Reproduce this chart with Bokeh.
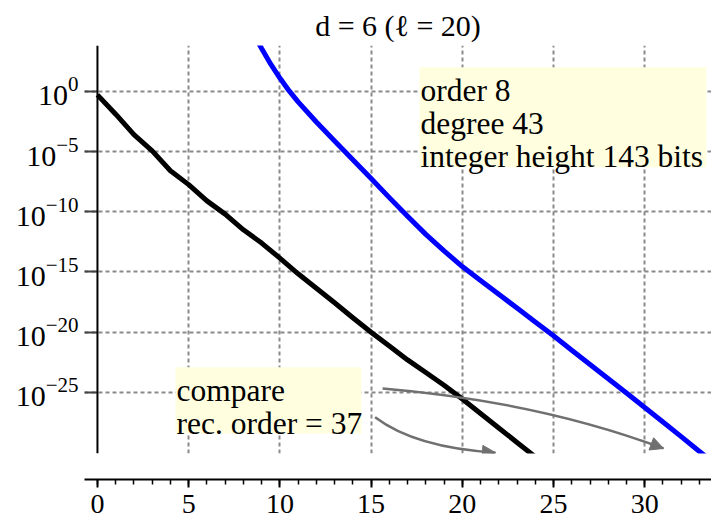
from bokeh.plotting import figure
from bokeh.models import (Range1d, LinearAxis, FixedTicker, SingleIntervalTicker, Grid,
                          Span, Label, Arrow, NormalHead, LogTickFormatter, ColumnDataSource,
                          BoxAnnotation)
from bokeh.embed import file_html
from bokeh.resources import INLINE

# ---------------- data ----------------
title_text = "d = 6 (ℓ = 20)"

black_x = list(range(0, 25))
black_log10 = [-0.3, -1.9, -3.6, -4.95, -6.6, -7.75, -9.1, -10.2, -11.5, -12.6,
               -13.85, -15.15, -16.35, -17.55, -18.8, -20.0, -21.15, -22.3, -23.35,
               -24.4, -25.55, -26.75, -27.95, -29.15, -30.35]

blue_x = [8, 9, 9.5, 10, 10.5, 11, 12, 13, 14, 15, 16, 17, 18, 19, 20, 21, 22, 23,
          24, 25, 26, 27, 28, 29, 30, 31, 32, 33, 34]
blue_log10 = [6.3, 3.55, 2.25, 1.1, 0.05, -0.88, -2.55, -4.12, -5.68, -7.25, -8.83,
              -10.38, -11.88, -13.25, -14.55, -15.7, -16.85, -18.0, -19.15, -20.3, -21.5,
              -22.68, -23.87, -25.05, -26.25, -27.45, -28.67, -29.9, -31.1]

x_ticks = [0, 5, 10, 15, 20, 25, 30]
y_tick_exponents = [0, -5, -10, -15, -20, -25]

box1_lines = ["order 8", "degree 43", "integer height 143 bits"]
box2_lines = ["compare", "rec. order = 37"]

# annotation boxes (data coordinates: left x, right x, top log10 y, bottom log10 y)
box1_extent = (17.65, 33.38, 2.0, -6.31)
box2_extent = (4.28, 14.47, -22.9, -28.4)
arrow1 = dict(start=(15.22, -27.07), ctrl=(17.43, -29.6), end=(21.82, -30.0))
arrow2 = dict(start=(15.63, -24.67), ctrl=(24.12, -25.75), end=(31.03, -29.65))

# ---------------- figure ----------------
X0, X1 = -0.71, 33.66
LY0, LY1 = -30.07, 3.8
SERIF = "Liberation Serif"
GRID_COLOR = "#8a8a8a"
ARROW_COLOR = "#707070"
BOX_COLOR = "#ffffe0"

p = figure(width=711, height=521, output_backend="svg", toolbar_location=None,
           x_range=Range1d(X0, X1), y_range=Range1d(10 ** LY0, 10 ** LY1),
           y_axis_type="log", x_axis_location=None, y_axis_location="left",
           min_border_left=84, min_border_right=0, min_border_top=45,
           min_border_bottom=68)
p.outline_line_color = None
p.background_fill_color = "white"
p.border_fill_color = "white"
for g in p.grid:
    g.visible = False

# title
p.title.text = title_text
p.title.align = "center"
p.title.text_font = SERIF
p.title.text_font_size = "30px"
p.title.text_font_style = "normal"
p.title.text_color = "black"
p.title.standoff = 8

# y axis (log)
yax = p.yaxis[0]
yax.ticker = FixedTicker(ticks=[10.0 ** e for e in y_tick_exponents])
yax.formatter = LogTickFormatter()
yax.axis_line_color = None
yax.major_tick_in = 13
yax.major_tick_out = 0
yax.major_tick_line_color = "#444444"
yax.major_tick_line_width = 2
yax.minor_tick_line_color = None
yax.major_label_standoff = 6
yax.major_label_text_font = SERIF
yax.major_label_text_font_size = "30px"
yax.major_label_text_color = "black"

# grids
p.add_layout(Grid(dimension=0, ticker=FixedTicker(ticks=x_ticks[1:]),
                  grid_line_color=GRID_COLOR, grid_line_width=2,
                  grid_line_dash="4 3"))
p.add_layout(Grid(dimension=1, ticker=FixedTicker(ticks=[10.0 ** e for e in y_tick_exponents]),
                  grid_line_color=GRID_COLOR, grid_line_width=2,
                  grid_line_dash="4 3"))

# spacer axis (keeps the x axis detached below the frame); draws nothing visible
spacer = LinearAxis(ticker=FixedTicker(ticks=[0]), axis_line_color=None,
                    major_tick_in=0, major_tick_out=26, major_tick_line_color="white",
                    minor_tick_line_color=None, major_label_text_color=None,
                    major_label_overrides={0: ""}, major_label_standoff=0)
p.add_layout(spacer, "below")

xax = LinearAxis(ticker=SingleIntervalTicker(interval=5, num_minor_ticks=5))
xax.axis_line_color = "black"
xax.axis_line_width = 2
xax.major_tick_in = 0
xax.major_tick_out = 8
xax.major_tick_line_width = 2
xax.minor_tick_in = 0
xax.minor_tick_out = 5
xax.minor_tick_line_width = 1.5
xax.major_label_standoff = 7
xax.major_label_text_line_height = 0.8
xax.major_label_text_font = SERIF
xax.major_label_text_font_size = "28px"
xax.major_label_text_color = "black"
p.add_layout(xax, "below")

# y-axis line at x = 0
p.add_layout(Span(location=0, dimension="height", line_color="black", line_width=2))

# curves
src_black = ColumnDataSource(dict(x=black_x, y=[10.0 ** v for v in black_log10]))
src_blue = ColumnDataSource(dict(x=blue_x, y=[10.0 ** v for v in blue_log10]))
p.line("x", "y", source=src_black, line_color="black", line_width=5, line_join="round")
p.line("x", "y", source=src_blue, line_color="#0000ff", line_width=5, line_join="round")

# text boxes
LINE_STEP = 33
FIRST_BASELINE = 23

def add_box(extent, lines):
    left, right, top, bottom = extent
    p.add_layout(BoxAnnotation(left=left, right=right, top=10.0 ** top, bottom=10.0 ** bottom,
                               fill_color=BOX_COLOR, fill_alpha=1.0, line_color=None,
                               level="annotation"))
    for i, line in enumerate(lines):
        p.add_layout(Label(x=left, y=10.0 ** top, text=line,
                           y_offset=-(FIRST_BASELINE + LINE_STEP * i), x_offset=1,
                           text_align="left", text_baseline="alphabetic",
                           text_font=SERIF, text_font_size="31.5px", text_color="black"))

add_box(box1_extent, box1_lines)
add_box(box2_extent, box2_lines)

# curved arrows
for a in (arrow1, arrow2):
    (sx, sy), (cx, cy), (ex, ey) = a["start"], a["ctrl"], a["end"]
    p.quadratic(x0=[sx], y0=[10.0 ** sy], x1=[ex], y1=[10.0 ** ey],
                cx=[cx], cy=[10.0 ** cy], line_color=ARROW_COLOR, line_width=2.5)
    p.add_layout(Arrow(x_start=cx, y_start=10.0 ** cy, x_end=ex, y_end=10.0 ** ey,
                       line_alpha=0,
                       end=NormalHead(size=13, fill_color=ARROW_COLOR,
                                      line_color=ARROW_COLOR, line_width=1)))

open("out.html", "w").write(file_html(p, INLINE))
